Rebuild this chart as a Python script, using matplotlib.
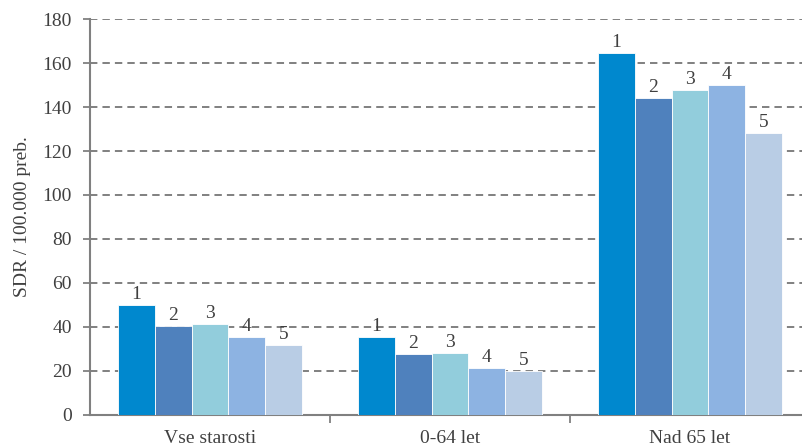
import matplotlib
matplotlib.use("Agg")
import matplotlib.pyplot as plt
import numpy as np

plt.rcParams['font.family'] = ['Liberation Serif', 'DejaVu Serif']

categories = ["Vse starosti", "0-64 let", "Nad 65 let"]
series_labels = ["1", "2", "3", "4", "5"]
values = [
    [49.7, 35.3, 164.6],   # 1
    [40.4, 27.6, 144.3],   # 2
    [41.1, 27.9, 147.7],   # 3
    [35.4, 21.1, 150.0],   # 4
    [31.6, 19.7, 128.1],   # 5
]
colors = ["#0088CE", "#4F81BD", "#92CDDC", "#8DB3E2", "#B9CDE5"]
y_ticks = list(range(0, 181, 20))
y_label = "SDR / 100.000 preb."

W, H = 803, 447
fig = plt.figure(figsize=(W / 100, H / 100), dpi=100)
ax = fig.add_axes([90 / W, 32.5 / H, 720 / W, 395.1 / H])

text_color = "#404040"
axis_color = "#808080"
fs = 14

x = np.arange(len(categories))
n = len(series_labels)
bw = 0.767 / n
for i, (lab, vals, col) in enumerate(zip(series_labels, values, colors)):
    pos = x - 0.767 / 2 + bw * (i + 0.5)
    ax.bar(pos, vals, width=bw, color=col, edgecolor="white", linewidth=0.6, zorder=3)
    for p, v in zip(pos, vals):
        ax.annotate(lab, (p, v), xytext=(0, 1.5), textcoords="offset points",
                    ha="center", va="bottom", fontsize=fs, color=text_color, zorder=4)

ax.set_xlim(-0.5, 2.5)
ax.set_ylim(0, 180)
ax.set_yticks(y_ticks)
ax.set_yticklabels([str(t) for t in y_ticks], fontsize=fs, color=text_color)

# Category labels centred under groups, tick marks between groups
ax.set_xticks(x)
ax.set_xticklabels(categories, fontsize=fs, color=text_color)
ax.tick_params(axis="x", length=0, pad=11)
ax.set_xticks([0.5, 1.5], minor=True)
ax.tick_params(axis="x", which="minor", length=6, width=1.3, color=axis_color)
ax.tick_params(axis="y", length=5, width=1.3, color=axis_color, pad=8)

ax.yaxis.grid(True, color=axis_color, linestyle=(0, (3.8, 2.6)), linewidth=1.4, zorder=0)
ax.set_axisbelow(True)

for s in ["top", "right"]:
    ax.spines[s].set_visible(False)
for s in ["left", "bottom"]:
    ax.spines[s].set_color(axis_color)
    ax.spines[s].set_linewidth(1.5)

ax.set_ylabel(y_label, fontsize=fs, color=text_color, labelpad=8)

fig.savefig("out.png", dpi=100)
